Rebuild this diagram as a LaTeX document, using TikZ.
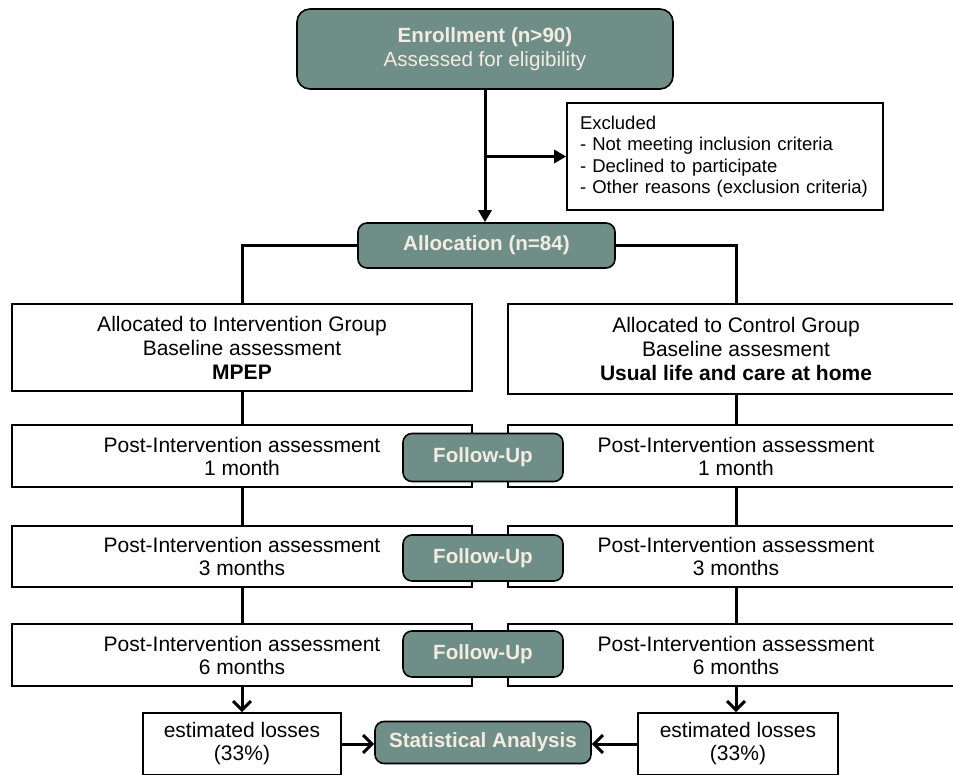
\documentclass[tikz,border=0pt]{standalone}
\usepackage{fontspec}
\setmainfont{Liberation Sans}
\usetikzlibrary{arrows.meta}
\definecolor{teal1}{RGB}{111,142,135}
\definecolor{lighttxt}{RGB}{242,237,226}
\tikzset{
  wbox/.style={draw=black, line width=1.6pt, fill=white, inner sep=0pt, align=center,
     font=\fontsize{21}{23}\selectfont},
  tbox/.style={draw=black, line width=1.6pt, fill=teal1, text=lighttxt, inner sep=0pt, align=center,
     rounded corners=9pt, font=\fontsize{20.6}{23}\selectfont\bfseries},
  conn/.style={line width=3pt, black},
  tri/.style={-{Triangle[length=12pt,width=13pt]}},
  barb/.style={-{Straight Barb[length=9pt,width=18pt]}}
}
\begin{document}
\begin{tikzpicture}[x=1pt,y=-1pt]
\useasboundingbox[fill=white] (0,0) rectangle (953,775);

% top
\node[tbox, rounded corners=13pt, minimum width=376pt, minimum height=80pt, font=\fontsize{20.6}{24}\selectfont]
  (enroll) at (485,49) {\textbf{Enrollment (n>90)}\\Assessed for eligibility};
\node[wbox, minimum width=316pt, minimum height=107pt, text width=290pt, align=left,
  font=\fontsize{18.5}{21.5}\selectfont]
  (excl) at (725,156.5) {Excluded\\- Not meeting inclusion criteria\\- Declined to participate\\- Other reasons (exclusion criteria)};
\node[tbox, minimum width=257pt, minimum height=45pt] (alloc) at (486.5,245.5) {Allocation (n=84)};

% allocated
\node[wbox, minimum width=460pt, minimum height=87pt, font=\fontsize{21}{24}\selectfont]
  (ai) at (242,347.5) {Allocated to Intervention Group\\Baseline assessment\\\textbf{MPEP}};
\node[wbox, minimum width=456pt, minimum height=90pt, font=\fontsize{21}{24}\selectfont]
  (ac) at (736,349) {Allocated to Control Group\\Baseline assesment\\\textbf{Usual life and care at home}};

% rows
\node[wbox, minimum width=460pt, minimum height=62pt] (r1L) at (242,456) {Post-Intervention assessment\\1 month};
\node[wbox, minimum width=456pt, minimum height=62pt] (r1R) at (736,456) {Post-Intervention assessment\\1 month};
\node[wbox, minimum width=460pt, minimum height=61pt] (r2L) at (242,556.5) {Post-Intervention assessment\\3 months};
\node[wbox, minimum width=456pt, minimum height=61pt] (r2R) at (736,556.5) {Post-Intervention assessment\\3 months};
\node[wbox, minimum width=460pt, minimum height=62pt] (r3L) at (242,655) {Post-Intervention assessment\\6 months};
\node[wbox, minimum width=456pt, minimum height=62pt] (r3R) at (736,655) {Post-Intervention assessment\\6 months};

% follow-ups
\node[tbox, minimum width=160pt, minimum height=48pt] (f1) at (483,457.5) {Follow-Up};
\node[tbox, minimum width=160pt, minimum height=46pt] (f2) at (483,558) {Follow-Up};
\node[tbox, minimum width=160pt, minimum height=46pt] (f3) at (483,654) {Follow-Up};

% bottom
\node[wbox, minimum width=198pt, minimum height=62pt] (estL) at (242,744) {estimated losses\\(33\%)};
\node[wbox, minimum width=200pt, minimum height=62pt] (estR) at (738,744) {estimated losses\\(33\%)};
\node[tbox, minimum width=216pt, minimum height=42pt] (sa) at (483,742.5) {Statistical Analysis};

% connectors
\draw[conn, tri] (enroll.south) -- (enroll.south |- alloc.north);
\coordinate (br) at (enroll.south |- excl.west);
\draw[conn, tri] (br) -- (excl.west);
\draw[conn] (alloc.west) -| (ai.north);
\draw[conn] (alloc.east) -| (ac.north);
\draw[conn] (ai.south) -- (r1L.north);
\draw[conn] (ac.south) -- (r1R.north);
\draw[conn] (r1L.south) -- (r2L.north);
\draw[conn] (r1R.south) -- (r2R.north);
\draw[conn] (r2L.south) -- (r3L.north);
\draw[conn] (r2R.south) -- (r3R.north);
\draw[conn, barb] (r3L.south) -- (r3L.south |- estL.north);
\draw[conn, barb] (r3R.south) -- (r3R.south |- estR.north);
\draw[conn, barb] (estL.east) -- (estL.east -| sa.west);
\draw[conn, barb] (estR.west) -- (estR.west -| sa.east);
\end{tikzpicture}
\end{document}
